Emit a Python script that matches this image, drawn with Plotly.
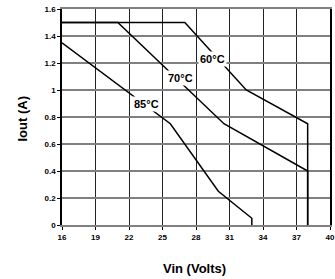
import plotly.graph_objects as go

# Data
vin_60 = [16, 27, 32.5, 38, 38]
iout_60 = [1.5, 1.5, 1.0, 0.75, 0]
vin_70 = [16, 21, 30.5, 38, 38]
iout_70 = [1.5, 1.5, 0.75, 0.4, 0]
vin_85 = [16, 25.7, 30, 33, 33]
iout_85 = [1.35, 0.75, 0.25, 0.05, 0]

labels = ["60°C", "70°C", "85°C"]
label_x = [29.5, 26.6, 23.6]
label_y = [1.23, 1.087, 0.90]

x_ticks = [16, 19, 22, 25, 28, 31, 34, 37, 40]
y_ticks = [0, 0.2, 0.4, 0.6, 0.8, 1, 1.2, 1.4, 1.6]
y_ticktext = ["0", "0.2", "0.4", "0.6", "0.8", "1", "1.2", "1.4", "1.6"]

FONT = "Liberation Sans, Arial, sans-serif"

fig = go.Figure()
for xs, ys in [(vin_60, iout_60), (vin_70, iout_70), (vin_85, iout_85)]:
    fig.add_trace(go.Scatter(x=xs, y=ys, mode="lines",
                             line=dict(color="black", width=1.5),
                             showlegend=False, hoverinfo="skip"))

for t, lx, ly in zip(labels, label_x, label_y):
    fig.add_annotation(x=lx, y=ly, text=t, showarrow=False,
                       font=dict(family=FONT, size=11, color="black", weight="bold"),
                       bgcolor="white", borderpad=1)

fig.add_annotation(xref="paper", yref="paper", x=0.496, y=-0.2, yanchor="middle",
                   text="Vin (Volts)", showarrow=False,
                   font=dict(family=FONT, size=13, color="black", weight="bold"))
fig.add_annotation(xref="paper", yref="paper", x=-0.148, y=0.49, xanchor="center",
                   yanchor="middle", textangle=-90,
                   text="Iout (A)", showarrow=False,
                   font=dict(family=FONT, size=13, color="black", weight="bold"))

fig.update_layout(
    width=335, height=279,
    margin=dict(l=62, r=5, t=9, b=54, autoexpand=False),
    paper_bgcolor="white", plot_bgcolor="white",
    font=dict(family=FONT, color="black"),
)
fig.update_xaxes(
    range=[16, 40], tickvals=x_ticks, ticktext=[str(v) for v in x_ticks],
    showgrid=True, gridcolor="#222222", gridwidth=1,
    showline=True, linecolor="#808080", linewidth=2, mirror=True,
    ticks="outside", ticklen=3, tickcolor="black",
    tickfont=dict(family=FONT, size=8, weight="bold"),
    zeroline=False, automargin=False,
)
fig.update_yaxes(
    range=[0, 1.6], tickvals=y_ticks, ticktext=y_ticktext,
    showgrid=True, gridcolor="#808080", gridwidth=2,
    showline=True, linecolor="black", linewidth=1.5, mirror=True,
    ticks="outside", ticklen=3, tickcolor="black",
    tickfont=dict(family=FONT, size=8, weight="bold"),
    zeroline=False, automargin=False,
)

fig.write_html("out.html", config={"displayModeBar": False},
               post_script="document.body.style.margin='0';document.body.style.overflow='hidden';")
